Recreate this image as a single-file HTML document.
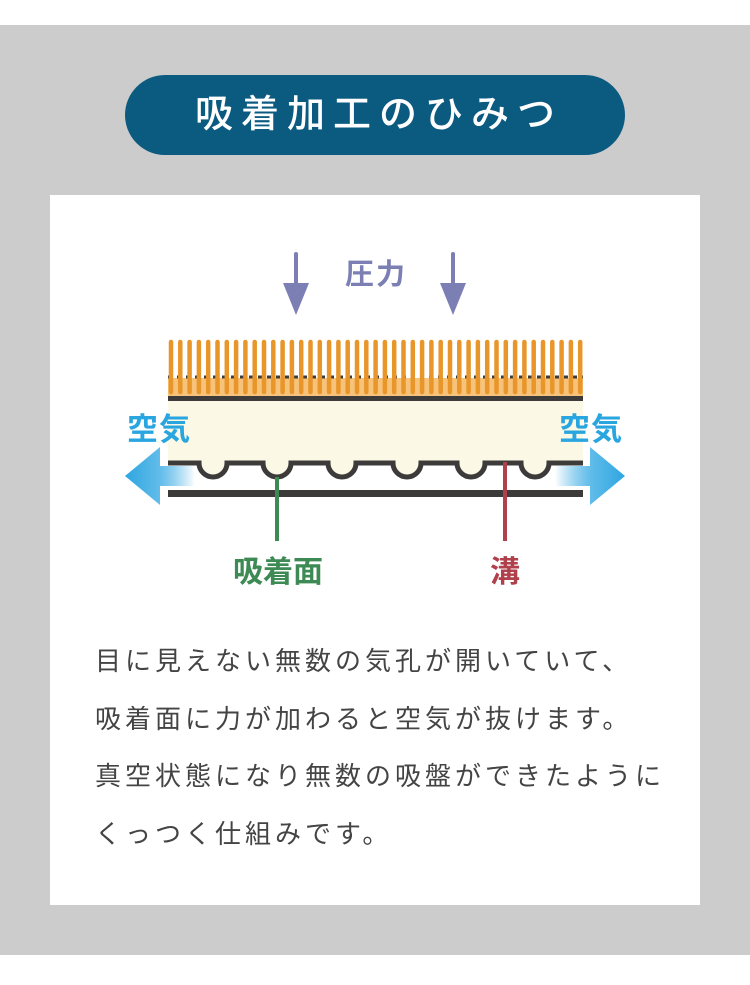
<!DOCTYPE html>
<html><head><meta charset="utf-8"><style>
html,body{margin:0;padding:0;width:750px;height:985px;background:#fff;overflow:hidden}
body{position:relative;font-family:"Liberation Sans","Noto Sans CJK JP",sans-serif}
.grey{position:absolute;left:0;top:25px;width:750px;height:930px;background:#cccccc}
.pill{position:absolute;left:125px;top:75px;width:500px;height:80px;border-radius:40px;background:#0b5a80;color:#fff;font-size:38px;line-height:80px;text-align:center;letter-spacing:8px;text-indent:8px;font-weight:500}
.panel{position:absolute;left:50px;top:195px;width:650px;height:710px;background:#fff}
.txt{position:absolute;left:95px;top:633px;font-size:26px;color:#444;letter-spacing:4px;line-height:57.5px;white-space:nowrap}
svg{position:absolute;left:0;top:0}
</style></head><body>
<div class="grey"></div>
<div class="pill">吸着加工のひみつ</div>
<div class="panel"></div>
<svg width="750" height="985" viewBox="0 0 750 985">
<defs>
<linearGradient id="gl" x1="0" x2="1"><stop offset="0" stop-color="#2ea6e0"/><stop offset="0.5" stop-color="#62bcea"/><stop offset="1" stop-color="#2ea6e0" stop-opacity="0"/></linearGradient>
<linearGradient id="gr" x1="1" x2="0"><stop offset="0" stop-color="#2ea6e0"/><stop offset="0.5" stop-color="#62bcea"/><stop offset="1" stop-color="#2ea6e0" stop-opacity="0"/></linearGradient>
</defs>
<g fill="#7b7fb4" stroke="#7b7fb4">
<line x1="296" y1="254" x2="296" y2="290" stroke-width="4" stroke-linecap="round"/>
<polygon points="283,283 309,283 296,315" stroke="none"/>
<line x1="453" y1="254" x2="453" y2="290" stroke-width="4" stroke-linecap="round"/>
<polygon points="440,283 466,283 453,315" stroke="none"/>
</g>
<text x="376" y="284" font-size="29" font-weight="bold" fill="#7b7fb4" text-anchor="middle" font-family="Liberation Sans,Noto Sans CJK JP,sans-serif" letter-spacing="2">圧力</text>
<rect x="168" y="378" width="415" height="18" fill="#f7c27a"/>
<line x1="168" y1="377" x2="583" y2="377" stroke="#3d3a3a" stroke-width="3" stroke-dasharray="4 5"/>
<g stroke="#e8962a" stroke-width="4.5" stroke-linecap="round" id="br"></g>
<rect x="168" y="396" width="415" height="5" fill="#3d3a3a"/>
<rect x="168" y="401" width="415" height="62" fill="#fbf8e6"/>
<path d="M168 463 H199 A14 14 0 0 0 227 463 H263 A14 14 0 0 0 291 463 H328 A14 14 0 0 0 356 463 H393 A14 14 0 0 0 421 463 H457 A14 14 0 0 0 485 463 H521 A14 14 0 0 0 549 463 H583" fill="#fbf8e6" stroke="#3d3a3a" stroke-width="5"/>
<rect x="168" y="490" width="415" height="7" fill="#3d3a3a"/>
<polygon points="125,476 160,447 160,466 195,466 195,486 160,486 160,505" fill="url(#gl)"/>
<polygon points="625,476 590,447 590,466 555,466 555,486 590,486 590,505" fill="url(#gr)"/>
<text x="159" y="440" font-size="31" font-weight="bold" fill="#29a6e0" text-anchor="middle" font-family="Liberation Sans,Noto Sans CJK JP,sans-serif" letter-spacing="1">空気</text>
<text x="591" y="440" font-size="31" font-weight="bold" fill="#29a6e0" text-anchor="middle" font-family="Liberation Sans,Noto Sans CJK JP,sans-serif" letter-spacing="1">空気</text>
<line x1="277" y1="477" x2="277" y2="541" stroke="#3d8a55" stroke-width="4"/>
<line x1="505" y1="462" x2="505" y2="541" stroke="#b0404c" stroke-width="4"/>
<text x="278" y="582" font-size="30" font-weight="bold" fill="#3d8a55" text-anchor="middle" font-family="Liberation Sans,Noto Sans CJK JP,sans-serif">吸着面</text>
<text x="505" y="582" font-size="30" font-weight="bold" fill="#b0404c" text-anchor="middle" font-family="Liberation Sans,Noto Sans CJK JP,sans-serif">溝</text>
</svg>
<div class="txt">目に見えない無数の気孔が開いていて、<br>吸着面に力が加わると空気が抜けます。<br>真空状態になり無数の吸盤ができたように<br>くっつく仕組みです。</div>
<script>
var g=document.getElementById('br'),s='';
for(var i=0;i<45;i++){var x=171+i*9.3;s+='<line x1="'+x+'" y1="342" x2="'+x+'" y2="392"/>';}
g.innerHTML=s;
</script>
</body></html>
